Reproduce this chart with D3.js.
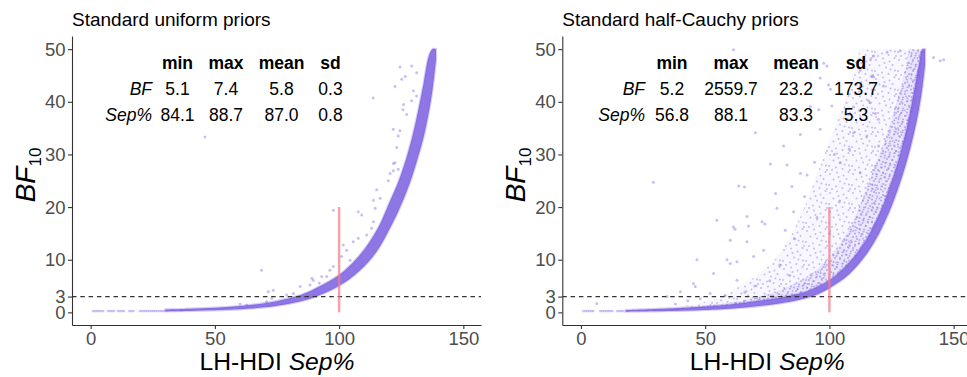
<!DOCTYPE html>
<html>
<head>
<meta charset="utf-8">
<script src="https://cdn.jsdelivr.net/npm/d3@7"></script>
<style>
  body { margin: 0; background: #fff; }
  svg { display: block; }
  text { font-family: "Liberation Sans", Arial, sans-serif; }
</style>
</head>
<body>
<svg id="chart" width="967" height="377"></svg>
<script>
// ---- data ----
const xTicks = [0, 50, 100, 150]
const yTicks = [0, 3, 10, 20, 30, 40, 50]
const statCols = ['min', 'max', 'mean', 'sd']
const statRows = ['BF', 'Sep%']
const uniformBF = ['5.1', '7.4', '5.8', '0.3']
const uniformSep = ['84.1', '88.7', '87.0', '0.8']
const cauchyBF = ['5.2', '2559.7', '23.2', '173.7']
const cauchySep = ['56.8', '88.1', '83.3', '5.3']
const bfThreshold = 3
const sepMark = 100
const sepMarkTop = 20

// left panel: dense band (sep, lower BF, upper BF)
const leftBandSep = [30, 40, 50, 60, 70, 80, 85, 88, 92, 96, 100, 104, 108, 112, 116, 120, 124, 128, 131, 134, 136, 137.5, 139]
const leftBandLo  = [0.18, 0.26, 0.38, 0.58, 0.95, 1.65, 2.15, 2.55, 3.25, 4.05, 5.05, 6.25, 7.8, 9.7, 12.2, 15.6, 19.4, 24.0, 28.3, 33.3, 37.8, 42.0, 48.0]
const leftBandHi  = [0.55, 0.7, 0.9, 1.2, 1.75, 2.7, 3.4, 3.95, 4.9, 5.9, 7.1, 8.7, 10.7, 13.2, 16.3, 20.6, 25.0, 30.8, 36.5, 43.5, 48.5, 50, 50]
const leftTailSep = [1, 1.8, 2.6, 3.4, 4.2, 5, 7, 7.8, 8.6, 9.4, 11, 11.8, 12.6, 13.4, 15.6, 16.4, 17.2,
  19.8, 20.6, 21.4, 22.2, 23, 23.8, 24.6, 25.4, 26.2, 27, 27.8, 28.6, 29.4]
const leftOutliers = [
  [46, 33.3], [113.7, 40.7], [122.5, 42.9], [124.5, 46.6], [126.6, 44.8], [125.7, 38.5], [125.2, 44.3],
  [129.2, 46.8], [131.2, 45.5], [125.9, 39.5], [129.2, 40.2], [127.2, 37.6], [121.8, 34.8], [124.5, 34.5],
  [123.8, 33.5], [123.2, 31.3], [122.5, 28.4], [121.8, 26.9], [123.8, 27.2], [119.8, 25], [129.9, 42.1],
  [131.2, 41.1], [121.8, 28.3], [120.5, 26.4], [115.1, 23.3], [116.5, 21.7], [113.8, 21.3], [107.7, 19.1],
  [109.1, 18.5], [114.5, 19.8], [113.8, 17.2], [113.1, 16], [111.1, 14.7], [107.7, 14.1], [105.7, 13.4],
  [101.7, 12.8], [103, 11.8], [101, 10.6], [104.4, 9.9], [97.7, 19.4], [96.3, 8], [89.6, 6.1], [93, 6.8],
  [97.7, 8.7], [84.3, 4.9], [89, 6.5], [78.9, 3.3], [95, 6.8], [68.8, 8.0], [71.5, 3.9], [73.5, 4.2],
  [72.9, 2.7], [70.8, 2.0], [60.1, 1.6], [62.8, 1.4], [81.6, 3.6], [88.3, 5.2], [92, 5.6]
]

// right panel: dense lower edge band
const rightBandSep = [18, 30, 40, 50, 60, 70, 80, 88, 92, 96, 100, 104, 108, 112, 116, 120, 124, 128, 131, 134, 136, 137.5, 138.5]
const rightBandLo  = [0.12, 0.2, 0.3, 0.45, 0.7, 1.1, 1.7, 2.4, 2.9, 3.6, 4.6, 5.8, 7.3, 9.3, 11.8, 15.0, 19.0, 24.0, 28.5, 34.0, 38.5, 43.0, 47.0]
const rightBandHi  = [0.45, 0.65, 0.85, 1.1, 1.5, 2.1, 2.8, 3.6, 4.2, 5.1, 6.1, 7.6, 9.5, 11.8, 14.8, 18.6, 23.4, 29.3, 34.8, 41.8, 47.0, 50, 50]
const rightTailSep = [1, 1.8, 2.6, 3.4, 4.2, 5, 7.8, 8.6, 9.4, 10.2, 11, 11.8, 12.6, 14.6, 15.4, 16.2, 17]
// right panel: scattered cloud, as sep extent per BF level
const cloudBF       = [0.4, 1, 2, 3, 5, 7.5, 10, 15, 20, 25, 30, 35, 40, 45, 50]
const cloudLeft     = [25, 38, 50, 57, 64, 72, 78, 85, 90, 94, 98, 102, 106, 110, 112]
const cloudInnerL   = [32, 46, 62, 72, 84, 93, 99, 107, 112, 116, 120, 124, 127, 130, 132]
const cloudRight    = [36, 52, 72, 86, 96, 104, 109.5, 117, 121.5, 125.5, 129, 132, 134.5, 136.5, 138]
const rightOutliers = [
  [29.2, 24.7], [63.5, 24], [65.8, 23.8], [76.2, 28.2], [82.9, 28], [54.7, 17.5], [66.8, 18.2], [67.4, 16.4],
  [62, 15.8], [72.9, 17.2], [78.3, 22.6], [82.2, 15.6], [60.1, 13.7], [66.8, 13.4], [46.7, 10], [58.8, 10],
  [62.8, 9.6], [69.5, 10.6], [73.5, 11.8], [88.3, 26.4], [91, 26.1], [84.9, 23.9], [78.9, 19.8], [85.6, 19.1],
  [6.4, 1.7], [45.3, 5.5], [46, 4.9], [74, 16.8], [61.4, 16.2], [53.4, 7.4], [60.1, 9.3], [62.8, 6.1],
  [34.6, 3], [40, 3.9], [52, 3.6], [111.1, 47.5], [117.8, 48.7], [123.2, 49.4], [128.5, 49.7], [144.6, 47.8],
  [141.9, 48.4], [99, 46.8], [100.4, 42.4], [101, 39.2], [96.3, 34.8], [88.3, 33.8], [81.6, 31.6], [70.2, 34.1],
  [109.7, 34.1], [115.1, 33.5], [112.4, 43], [116.5, 39.8], [107.1, 36.7], [117, 44.9], [121.7, 43], [119.7, 36.7],
  [119.8, 31.6], [104.4, 28.4], [112.4, 26.5], [97.7, 47.3], [96.3, 44.5], [99.7, 43.2], [112.4, 46], [117.8, 44.7],
  [116.5, 48], [109.7, 39], [115.7, 40.2], [118.5, 37.8], [95.7, 38.5], [92.3, 39.1], [146, 48], [61.4, 49.9],
  [102, 30], [94, 28.5], [108, 31], [90, 22], [95, 18], [100, 15], [104, 21], [86, 14], [80, 9], [84, 7],
  [76, 6], [70, 5], [66, 3.8], [58, 3.2], [48, 2.6], [43, 2.2], [38, 1.6]
]

// ---- layout ----
const DOT = '#7b5ee0'
const plotTop = 36, plotBottom = 325, plotW = 409
const svg = d3.select('#chart')
const defs = svg.append('defs')

// stipple textures for the scattered cloud (irregular dot tiles)
function stipple(id, w, h, r, op, pts) {
  const p = defs.append('pattern').attr('id', id)
    .attr('width', w).attr('height', h).attr('patternUnits', 'userSpaceOnUse')
  pts.forEach(q => p.append('circle').attr('cx', q[0]).attr('cy', q[1]).attr('r', r)
    .attr('fill', DOT).attr('fill-opacity', op))
}
stipple('dotsSparse', 23, 19, 1.0, 0.4, [
  [2, 3], [9, 1.5], [15.5, 4.5], [20.5, 1], [5.5, 8.5], [12, 10.5], [18.5, 8],
  [1, 14], [8, 15.5], [14.5, 17], [21, 13.5], [16.5, 12.5], [4, 18], [10.5, 6], [22, 18]
])
stipple('dotsDense', 13, 11, 1.05, 0.45, [
  [1, 1.5], [5.5, 0.5], [10, 2.5], [3, 5], [8, 6], [12, 8], [1.5, 9], [6, 9.5], [10.5, 10.5], [4.5, 3]
])

function drawPanel(ox, opts) {
  const x = d3.scaleLinear().domain([-7.5, 157.1]).range([ox, ox + plotW])
  const y = d3.scaleLinear().domain([-2.4, 52.5]).range([plotBottom, plotTop])
  const id = 'clip' + Math.round(ox)

  defs.append('clipPath').attr('id', id).append('rect')
    .attr('x', ox).attr('y', plotTop).attr('width', plotW).attr('height', plotBottom - plotTop)

  const g = svg.append('g').attr('clip-path', `url(#${id})`)

  if (opts.cloud) {
    const c = opts.cloud
    const outer = d3.area().curve(d3.curveCatmullRom)
      .y((d, i) => y(c.bf[i])).x0((d, i) => x(c.left[i])).x1((d, i) => x(c.right[i]))
    const inner = d3.area().curve(d3.curveCatmullRom)
      .y((d, i) => y(c.bf[i])).x0((d, i) => x(c.innerL[i])).x1((d, i) => x(c.right[i]))
    g.append('path').attr('d', outer(c.bf)).attr('fill', DOT).attr('fill-opacity', 0.05)
    g.append('path').attr('d', outer(c.bf)).attr('fill', 'url(#dotsSparse)')
    g.append('path').attr('d', inner(c.bf)).attr('fill', DOT).attr('fill-opacity', 0.1)
    g.append('path').attr('d', inner(c.bf)).attr('fill', 'url(#dotsDense)')
  }

  // thin low tail of the scatter
  g.append('g').selectAll('circle').data(opts.tail).join('circle')
    .attr('cx', d => x(d)).attr('cy', y(0.25)).attr('r', 1.4)
    .attr('fill', DOT).attr('fill-opacity', 0.35)

  // dense band of points
  const band = d3.area().curve(d3.curveCatmullRom)
    .x((d, i) => x(opts.bandSep[i]))
    .y0((d, i) => y(opts.bandLo[i]))
    .y1((d, i) => y(opts.bandHi[i]))
  g.append('path').attr('d', band(opts.bandSep))
    .attr('fill', DOT).attr('fill-opacity', 0.85)
    .attr('stroke', DOT).attr('stroke-opacity', 0.3).attr('stroke-width', 2.2)

  // scattered points
  g.append('g').selectAll('circle').data(opts.outliers).join('circle')
    .attr('cx', d => x(d[0])).attr('cy', d => y(d[1])).attr('r', 1.5)
    .attr('fill', DOT).attr('fill-opacity', 0.4)

  // reference lines
  g.append('line')
    .attr('x1', ox).attr('x2', ox + plotW)
    .attr('y1', y(bfThreshold)).attr('y2', y(bfThreshold))
    .attr('stroke', '#333').attr('stroke-width', 1.2).attr('stroke-dasharray', '4.5,3.8')
  g.append('line')
    .attr('x1', x(sepMark)).attr('x2', x(sepMark))
    .attr('y1', y(0)).attr('y2', y(sepMarkTop))
    .attr('stroke', '#f27f88').attr('stroke-opacity', 0.75).attr('stroke-width', 2.4)

  // axes
  const yAxis = svg.append('g').attr('transform', `translate(${ox},0)`)
    .call(d3.axisLeft(y).tickValues(yTicks).tickSize(4).tickSizeOuter(0).tickPadding(2.5))
  const xAxis = svg.append('g').attr('transform', `translate(0,${plotBottom})`)
    .call(d3.axisBottom(x).tickValues(xTicks).tickSize(4).tickSizeOuter(0).tickPadding(3.2))
  ;[yAxis, xAxis].forEach(a => {
    a.select('.domain').attr('stroke', '#333').attr('stroke-width', 1.1)
    a.selectAll('.tick line').attr('stroke', '#333').attr('stroke-width', 1.1)
    a.selectAll('.tick text').attr('fill', '#4d4d4d').attr('font-size', '18.5px')
      .attr('font-family', '"Liberation Sans", Arial, sans-serif')
  })

  // axis titles
  const xt = svg.append('text').attr('x', ox + plotW / 2 + 0.5).attr('y', 370)
    .attr('text-anchor', 'middle').attr('font-size', '24.7px').attr('fill', '#000')
  xt.append('tspan').text('LH-HDI ')
  xt.append('tspan').attr('font-style', 'italic').text('Sep%')

  const yt = svg.append('text').attr('transform', `translate(${ox - 37},175) rotate(-90)`)
    .attr('text-anchor', 'middle').attr('fill', '#000')
  yt.append('tspan').attr('font-style', 'italic').attr('font-size', '28px').text('BF')
  yt.append('tspan').attr('font-size', '17px').attr('dy', 6).text('10')

  // panel title
  svg.append('text').attr('x', ox).attr('y', 26)
    .attr('font-size', '19px').attr('fill', '#000').text(opts.title)

  // summary table
  const tbl = svg.append('g')
  statCols.forEach((c, j) => {
    tbl.append('text').attr('x', opts.colX[j]).attr('y', 69).attr('text-anchor', 'middle')
      .attr('font-size', '17.5px').attr('font-weight', 'bold').text(c)
  })
  ;[opts.bf, opts.sep].forEach((row, r) => {
    const yy = 95 + r * 26
    tbl.append('text').attr('x', opts.labelX).attr('y', yy).attr('text-anchor', 'end')
      .attr('font-size', '17.5px').attr('font-style', 'italic').text(statRows[r])
    row.forEach((v, j) => {
      tbl.append('text').attr('x', opts.colX[j]).attr('y', yy).attr('text-anchor', 'middle')
        .attr('font-size', '17.5px').text(v)
    })
  })
}

drawPanel(72, {
  title: 'Standard uniform priors',
  bandSep: leftBandSep, bandLo: leftBandLo, bandHi: leftBandHi,
  tail: leftTailSep, outliers: leftOutliers,
  bf: uniformBF, sep: uniformSep,
  labelX: 152, colX: [177.5, 226, 281.5, 330.5]
})

drawPanel(562.3, {
  title: 'Standard half-Cauchy priors',
  bandSep: rightBandSep, bandLo: rightBandLo, bandHi: rightBandHi,
  tail: rightTailSep, outliers: rightOutliers,
  cloud: { bf: cloudBF, left: cloudLeft, innerL: cloudInnerL, right: cloudRight },
  bf: cauchyBF, sep: cauchySep,
  labelX: 645, colX: [672, 731, 796, 856]
})
</script>
</body>
</html>
